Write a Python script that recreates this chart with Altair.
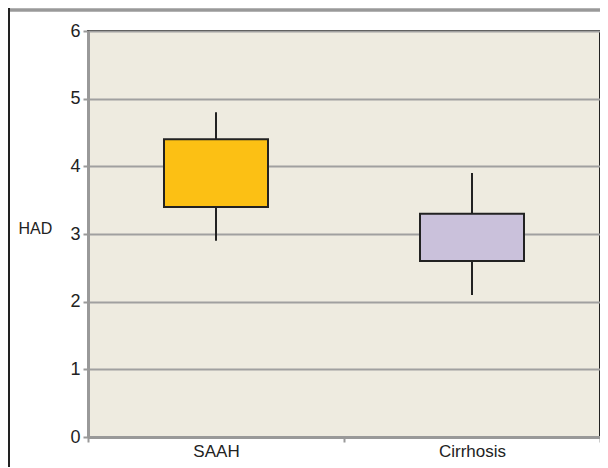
import altair as alt
import pandas as pd

groups = ["SAAH", "Cirrhosis"]
whisker_low = [2.9, 2.1]
box_low = [3.4, 2.6]
box_high = [4.4, 3.3]
whisker_high = [4.8, 3.9]
fills = ["#FCC014", "#CAC1DB"]

df = pd.DataFrame({
    "group": groups,
    "wlo": whisker_low,
    "blo": box_low,
    "bhi": box_high,
    "whi": whisker_high,
})

x = alt.X("group:N", sort=groups, title=None,
          scale=alt.Scale(paddingInner=0, paddingOuter=0),
          axis=alt.Axis(labelAngle=0, labelFontSize=17, labelColor="#222222",
                        labelFont="Liberation Sans", tickBand="extent",
                        domainColor="#999999", domainWidth=3,
                        tickColor="#999999", tickSize=5, tickWidth=2,
                        labelPadding=1, grid=False))

y_axis = alt.Axis(values=[0, 1, 2, 3, 4, 5, 6], format="d", labelFontSize=18, labelColor="#222222",
                  labelFont="Liberation Sans", domainColor="#999999", domainWidth=3,
                  tickColor="#999999", tickSize=5, tickWidth=2, labelPadding=3,
                  gridColor="#A0A0A0", gridWidth=2,
                  title="HAD", titleAngle=0, titleFontSize=16, titleFontWeight="normal",
                  titleFont="Liberation Sans", titleColor="#222222",
                  titleAlign="left", titleBaseline="middle", titleX=-70, titleY=197)

base = alt.Chart(df)

whiskers = base.mark_rule(color="#222222", strokeWidth=2).encode(
    x=x,
    y=alt.Y("wlo:Q", scale=alt.Scale(domain=[0, 6], nice=False), axis=y_axis),
    y2="whi:Q",
)

boxes = base.mark_bar(size=104, stroke="#222222", strokeWidth=2).encode(
    x=x,
    y="blo:Q",
    y2="bhi:Q",
    color=alt.Color("group:N", scale=alt.Scale(domain=groups, range=fills), legend=None),
)

frame_top = base.mark_rule(color="#999999", strokeWidth=3).encode(
    x=alt.value(-80), x2=alt.value(600), y=alt.value(-21))
frame_left = base.mark_rule(color="#222222", strokeWidth=2).encode(
    x=alt.value(-79), y=alt.value(-23), y2=alt.value(440))

chart = alt.layer(whiskers, boxes, frame_top, frame_left).properties(
    width=512, height=406,
    padding={"left": 80, "top": 23, "right": 0, "bottom": 30},
    autosize=alt.AutoSizeParams(type="none"),
    background="white",
).configure_view(
    fill="#EEEBE0", stroke="#222222", strokeWidth=2
)

chart.save("out.html", embed_options={"renderer": "svg", "actions": False})
